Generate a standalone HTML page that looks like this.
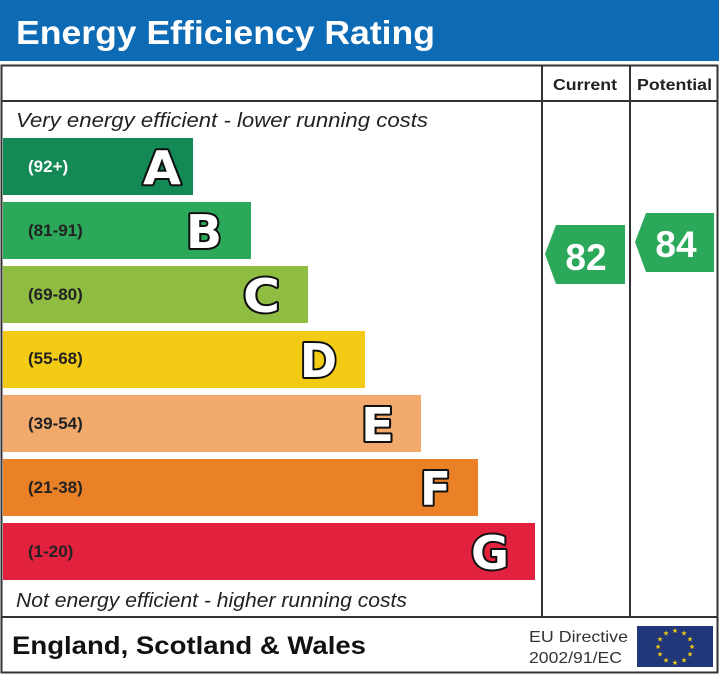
<!DOCTYPE html><html><head><style>body{margin:0;background:#fff}</style></head><body>
<svg width="719" height="675" xmlns="http://www.w3.org/2000/svg" font-family="Liberation Sans, Arial, sans-serif">
<rect x="0" y="0" width="719" height="61" fill="#0d6ab4"/>
<text x="16" y="44" font-size="33" font-weight="bold" fill="#fff" textLength="419" lengthAdjust="spacingAndGlyphs">Energy Efficiency Rating</text>
<rect x="1.5" y="65.5" width="716" height="607" fill="#fff" stroke="#333" stroke-width="2"/>
<line x1="1" y1="101" x2="718" y2="101" stroke="#333" stroke-width="2"/>
<line x1="542" y1="66" x2="542" y2="617" stroke="#333" stroke-width="2"/>
<line x1="630" y1="66" x2="630" y2="617" stroke="#333" stroke-width="2"/>
<line x1="1" y1="617" x2="718" y2="617" stroke="#333" stroke-width="2"/>
<text x="553" y="90" font-size="16" font-weight="bold" fill="#222" textLength="64" lengthAdjust="spacingAndGlyphs">Current</text>
<text x="637" y="90" font-size="16" font-weight="bold" fill="#222" textLength="75" lengthAdjust="spacingAndGlyphs">Potential</text>
<text x="16" y="127" font-size="20" font-style="italic" fill="#222" textLength="412" lengthAdjust="spacingAndGlyphs">Very energy efficient - lower running costs</text>
<text x="16" y="607" font-size="20" font-style="italic" fill="#222" textLength="391" lengthAdjust="spacingAndGlyphs">Not energy efficient - higher running costs</text>
<g font-weight="bold">
<rect x="3" y="138" width="190" height="57" fill="#138a56"/>
<rect x="3" y="202" width="248" height="57" fill="#2ca85a"/>
<rect x="3" y="266" width="305" height="57" fill="#8fbd41"/>
<rect x="3" y="331" width="362" height="57" fill="#f4cb14"/>
<rect x="3" y="395" width="418" height="57" fill="#f2a96c"/>
<rect x="3" y="459" width="475" height="57" fill="#eb8126"/>
<rect x="3" y="523" width="532" height="57" fill="#e1213e"/>
<g font-size="17" fill="#fff"><text x="28" y="172">(92+)</text></g>
<g font-size="17" fill="#222"><text x="28" y="236">(81-91)</text><text x="28" y="300">(69-80)</text><text x="28" y="364">(55-68)</text><text x="28" y="429">(39-54)</text><text x="28" y="493">(21-38)</text><text x="28" y="557">(1-20)</text></g>
<g font-size="46" fill="#fff" stroke="#111" stroke-width="4" stroke-linejoin="round" paint-order="stroke" font-family="DejaVu Sans, Liberation Sans, sans-serif">
<text x="143" y="184" textLength="38" lengthAdjust="spacingAndGlyphs">A</text>
<text x="186" y="248" textLength="36" lengthAdjust="spacingAndGlyphs">B</text>
<text x="243" y="312" textLength="37" lengthAdjust="spacingAndGlyphs">C</text>
<text x="300" y="377" textLength="37" lengthAdjust="spacingAndGlyphs">D</text>
<text x="361" y="441" textLength="33" lengthAdjust="spacingAndGlyphs">E</text>
<text x="420" y="505" textLength="31" lengthAdjust="spacingAndGlyphs">F</text>
<text x="471" y="569" textLength="38" lengthAdjust="spacingAndGlyphs">G</text></g>
<polygon points="625,225 556,225 545,254 556,284 625,284" fill="#2ca85a"/>
<text x="586" y="270" font-size="37" fill="#fff" text-anchor="middle">82</text>
<polygon points="714,213 646,213 635,242 646,272 714,272" fill="#2ca85a"/>
<text x="676" y="257" font-size="37" fill="#fff" text-anchor="middle">84</text>
<text x="12" y="654" font-size="25" fill="#111" textLength="354" lengthAdjust="spacingAndGlyphs">England, Scotland &amp; Wales</text>
</g>
<text x="529" y="642" font-size="16" fill="#333" textLength="99" lengthAdjust="spacingAndGlyphs">EU Directive</text>
<text x="529" y="663" font-size="16" fill="#333" textLength="93" lengthAdjust="spacingAndGlyphs">2002/91/EC</text>
<rect x="637" y="626" width="76" height="41" fill="#21377a"/>
<g fill="#f5d10c" font-size="7" text-anchor="middle">
<text x="675" y="633">★</text><text x="684" y="635.5">★</text><text x="690" y="641.5">★</text><text x="692" y="649">★</text><text x="690" y="656.5">★</text><text x="684" y="662.5">★</text><text x="675" y="665">★</text><text x="666" y="662.5">★</text><text x="660" y="656.5">★</text><text x="658" y="649">★</text><text x="660" y="641.5">★</text><text x="666" y="635.5">★</text></g>
</svg></body></html>
